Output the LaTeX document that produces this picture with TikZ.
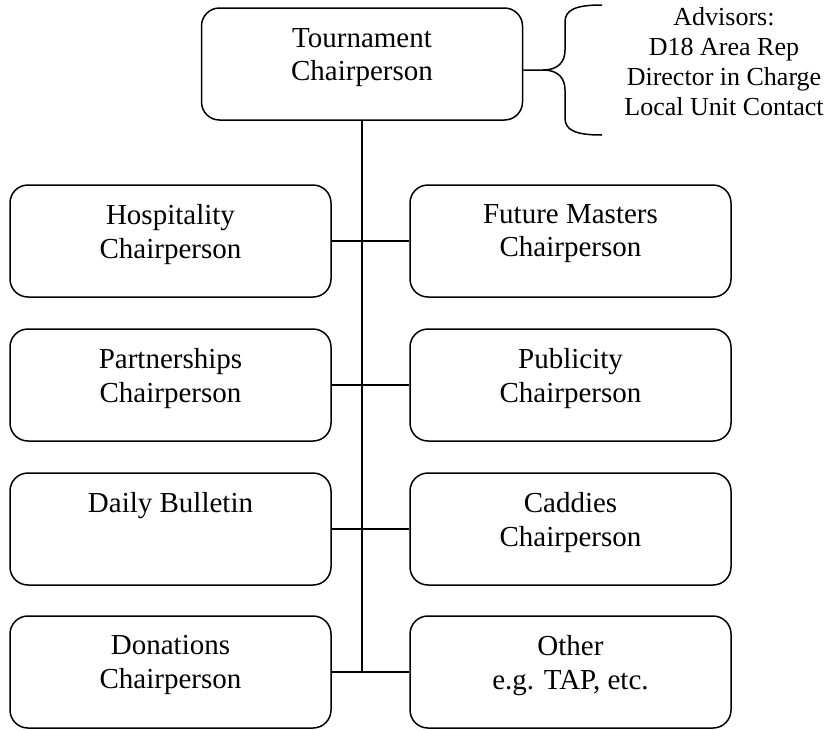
\documentclass[tikz,border=0pt]{standalone}
\usepackage{fontspec}
\setmainfont{Liberation Serif}
\begin{document}
\begin{tikzpicture}[x=1pt,y=-1pt,
  box/.style={draw, rounded corners=18pt, line width=1.5pt, minimum width=321pt, minimum height=112pt, inner sep=0pt},
  txt/.style={anchor=north, align=center, inner sep=0pt, font=\fontsize{29}{33.5}\selectfont},
  advtxt/.style={anchor=north, align=center, inner sep=0pt, font=\fontsize{26}{30}\selectfont},
  conn/.style={line width=1.4pt}]
\useasboundingbox (0,0) rectangle (832,729);
% top
\node[box] (tc) at (362,64) {};
\node[txt] (tct) at ([yshift=-21pt]tc.north) {Tournament\\Chairperson};
% rows
\node[box] (hos) at (170.5,241) {};
\node[txt] (host) at ([yshift=-20pt]hos.north) {Hospitality\\Chairperson};
\node[box] (fm) at (570.5,241) {};
\node[txt] (fmt) at ([yshift=-20pt]fm.north) {Future Masters\\Chairperson};
\node[box] (par) at (170.5,385) {};
\node[txt] (part) at ([yshift=-20pt]par.north) {Partnerships\\Chairperson};
\node[box] (pub) at (570.5,385) {};
\node[txt] (pubt) at ([yshift=-20pt]pub.north) {Publicity\\Chairperson};
\node[box] (db) at (170.5,529) {};
\node[txt] (dbt) at ([yshift=-20pt]db.north) {Daily Bulletin};
\node[box] (cad) at (570.5,529) {};
\node[txt] (cadt) at ([yshift=-20pt]cad.north) {Caddies\\Chairperson};
\node[box] (don) at (170.5,672) {};
\node[txt] (dont) at ([yshift=-20pt]don.north) {Donations\\Chairperson};
\node[box] (oth) at (570.5,672) {};
\node[txt] (otht) at ([yshift=-20pt]oth.north) {Other\\e.g. TAP, etc.};
% advisors
\node[advtxt] (adv) at (724,7) {Advisors:\\D18 Area Rep\\Director in Charge\\Local Unit Contact};
% connectors
\coordinate (vend) at (tc.south |- don.east);
\draw[conn] (tc.south) -- (vend);
\draw[conn] (hos.east) -- (fm.west);
\draw[conn] (par.east) -- (pub.west);
\draw[conn] (db.east) -- (cad.west);
\draw[conn] (don.east) -- (oth.west);
% brace
\coordinate (bt) at ([yshift=-6pt]tc.east);
\draw[conn, line width=1.5pt] (bt) -- (543,70) .. controls (558,70) and (565,62) .. (565,50) -- (565,22) .. controls (565,10) and (575,5) .. (602,5);
\draw[conn, line width=1.5pt] (543,70) .. controls (558,70) and (565,78) .. (565,90) -- (565,118) .. controls (565,130) and (575,135) .. (602,135);
\end{tikzpicture}
\end{document}
